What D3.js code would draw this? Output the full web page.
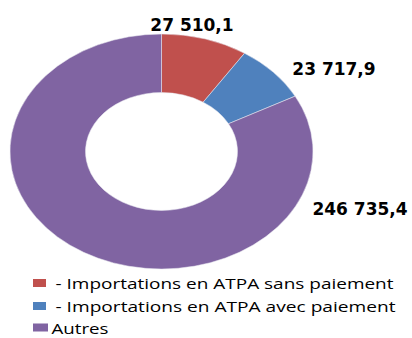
<!DOCTYPE html>
<html>
<head>
<meta charset="utf-8">
<script src="https://cdn.jsdelivr.net/npm/d3@7/dist/d3.min.js"></script>
<style>
  html, body { margin: 0; padding: 0; background: #fff; }
  svg { display: block; }
</style>
</head>
<body>
<svg id="chart" width="412" height="338"></svg>
<script>
// Donut: import values by regime
const categories = [
  "- Importations en ATPA sans paiement",
  "- Importations en ATPA avec paiement",
  "Autres"
];
const values = [27510.1, 23717.9, 246735.4];
const valueLabels = ["27 510,1", "23 717,9", "246 735,4"];
const colors = ["#C0504D", "#4F81BD", "#8064A2"];

// Layout
const W = 412, H = 338;
const cx = 161.5, cy = 151.5;
const rOuter = 151.5, rInner = 76;
const squash = 117.5 / 151.5;       // vertical flattening of the ring
const labelPos = [[192, 31], [334, 75], [360, 215]]; // text centre x, baseline y
const legend = {
  x: 33,
  textX: [55.5, 55.5, 51.5],
  rows: [289, 312, 333.5],
  box: [13, 8],
  widths: [338, 340, 57]
};

const svg = d3.select("#chart");
svg.append("rect").attr("width", W).attr("height", H).attr("fill", "#fff");

const pie = d3.pie().sort(null).value(d => d)(values);
const arc = d3.arc().innerRadius(rInner).outerRadius(rOuter);

const ring = svg.append("g")
  .attr("transform", `translate(${cx},${cy}) scale(1,${squash})`);

ring.selectAll("path")
  .data(pie)
  .join("path")
  .attr("d", arc)
  .attr("fill", (d, i) => colors[i])
  .attr("stroke", "#e8e8f0")
  .attr("stroke-width", 0.6);

// Value labels
svg.selectAll("text.val")
  .data(valueLabels)
  .join("text")
  .attr("class", "val")
  .attr("x", (d, i) => labelPos[i][0])
  .attr("y", (d, i) => labelPos[i][1])
  .attr("text-anchor", "middle")
  .attr("font-family", "DejaVu Sans, Verdana, sans-serif")
  .attr("font-weight", "bold")
  .attr("font-size", 17)
  .attr("fill", "#000")
  .text(d => d);

// Legend
const lg = svg.append("g");
categories.forEach((c, i) => {
  const y = legend.rows[i];
  lg.append("rect")
    .attr("x", legend.x)
    .attr("y", y - 10)
    .attr("width", i === 2 ? legend.box[0] + 2 : legend.box[0])
    .attr("height", legend.box[1])
    .attr("fill", colors[i]);
  lg.append("text")
    .attr("x", legend.textX[i])
    .attr("y", y)
    .attr("font-family", "Open Sans, sans-serif")
    .attr("font-size", 15)
    .attr("fill", "#000")
    .attr("textLength", legend.widths[i])
    .attr("lengthAdjust", "spacingAndGlyphs")
    .text(c);
});
</script>
</body>
</html>
